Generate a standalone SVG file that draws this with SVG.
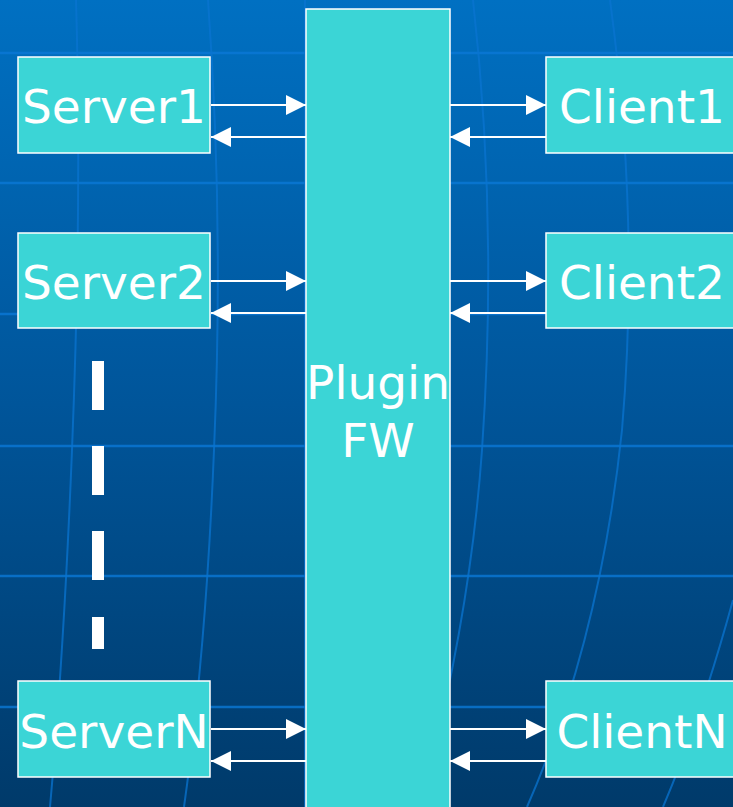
<svg xmlns="http://www.w3.org/2000/svg" width="733" height="807" viewBox="0 0 733 807">
<defs>
<linearGradient id="bg" x1="0" y1="0" x2="0" y2="1">
<stop offset="0" stop-color="#0070c2"/>
<stop offset="0.5" stop-color="#00559a"/>
<stop offset="1" stop-color="#003a6a"/>
</linearGradient>
<marker id="ah" viewBox="0 0 20 20" refX="20" refY="10" markerWidth="20" markerHeight="20" markerUnits="userSpaceOnUse" orient="auto">
<path d="M0,0 L20,10 L0,20 z" fill="#ffffff"/>
</marker>
<style>
.box{fill:#3bd5d6;stroke:#ffffff;stroke-width:1.5}
.lbl{font-family:"DejaVu Sans",Verdana,sans-serif;font-size:47px;fill:#ffffff;text-anchor:middle}
.conn{stroke:#ffffff;stroke-width:2;fill:none;marker-end:url(#ah)}
.grid{stroke:#0a78d6;stroke-width:2.5;fill:none;opacity:0.8}
.vgrid{stroke:#0a74d0;stroke-width:2;fill:none;opacity:0.75}
.dash{fill:#ffffff}
</style>
</defs>
<rect x="0" y="0" width="733" height="807" fill="url(#bg)"/>
<g id="background-grid">
<line class="grid" x1="0" y1="53" x2="733" y2="53"/>
<line class="grid" x1="0" y1="183" x2="733" y2="183"/>
<line class="grid" x1="0" y1="314" x2="733" y2="314"/>
<line class="grid" x1="0" y1="446" x2="733" y2="446"/>
<line class="grid" x1="0" y1="576" x2="733" y2="576"/>
<line class="grid" x1="0" y1="707" x2="733" y2="707"/>
<path class="vgrid" d="M76,0 Q82,200 72,450 Q64,650 50,807"/>
<path class="vgrid" d="M208,0 Q224,220 214,450 Q206,650 184,807"/>
<path class="vgrid" d="M305,0 L305,807"/>
<path class="vgrid" d="M473,0 Q498,220 482,450 Q470,620 420,807"/>
<path class="vgrid" d="M610,0 Q640,220 622,430 Q600,640 527,807"/>
<path class="vgrid" d="M733,600 Q700,720 663,807"/>
</g>
<g id="connectors">
<line class="conn" x1="211" y1="105" x2="306" y2="105"/>
<line class="conn" x1="306" y1="137" x2="211" y2="137"/>
<line class="conn" x1="450" y1="105" x2="546" y2="105"/>
<line class="conn" x1="546" y1="137" x2="450" y2="137"/>
<line class="conn" x1="211" y1="281" x2="306" y2="281"/>
<line class="conn" x1="306" y1="313" x2="211" y2="313"/>
<line class="conn" x1="450" y1="281" x2="546" y2="281"/>
<line class="conn" x1="546" y1="313" x2="450" y2="313"/>
<line class="conn" x1="211" y1="729" x2="306" y2="729"/>
<line class="conn" x1="306" y1="761" x2="211" y2="761"/>
<line class="conn" x1="450" y1="729" x2="546" y2="729"/>
<line class="conn" x1="546" y1="761" x2="450" y2="761"/>
</g>
<g id="ellipsis">
<rect class="dash" x="92" y="361" width="12" height="49"/>
<rect class="dash" x="92" y="446" width="12" height="49"/>
<rect class="dash" x="92" y="531" width="12" height="49"/>
<rect class="dash" x="92" y="617" width="12" height="32"/>
</g>
<g id="plugin-fw">
<rect class="box" x="306" y="9" width="144" height="810"/>
<text class="lbl" x="378" y="399">Plugin</text>
<text class="lbl" x="378" y="457">FW</text>
</g>
<g id="server1">
<rect class="box" x="18" y="57" width="192" height="96"/>
<text class="lbl" x="114" y="123">Server1</text>
</g>
<g id="server2">
<rect class="box" x="18" y="233" width="192" height="95"/>
<text class="lbl" x="114" y="299">Server2</text>
</g>
<g id="serverN">
<rect class="box" x="18" y="681" width="192" height="96"/>
<text class="lbl" x="114" y="748">ServerN</text>
</g>
<g id="client1">
<rect class="box" x="546" y="57" width="200" height="96"/>
<text class="lbl" x="642" y="123">Client1</text>
</g>
<g id="client2">
<rect class="box" x="546" y="233" width="200" height="95"/>
<text class="lbl" x="642" y="299">Client2</text>
</g>
<g id="clientN">
<rect class="box" x="546" y="681" width="200" height="96"/>
<text class="lbl" x="642" y="748">ClientN</text>
</g>
</svg>
